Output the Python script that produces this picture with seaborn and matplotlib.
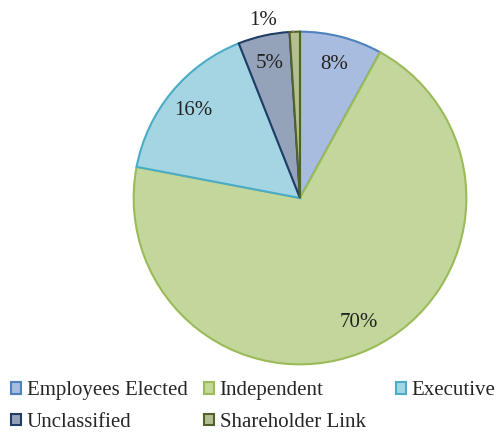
import matplotlib
matplotlib.use('Agg')

import matplotlib.pyplot as plt
import seaborn as sns
from matplotlib.patches import Patch

sns.set_theme(style='white')
plt.rcParams['font.family'] = ['Liberation Serif', 'DejaVu Serif']

categories = ['Employees Elected', 'Independent', 'Executive', 'Unclassified', 'Shareholder Link']
shares = [8, 70, 16, 5, 1]
face_colors = ['#a8bce0', '#c3d69b', '#a5d5e3', '#95a3ba', '#b3bf8f']
edge_colors = ['#4f81bd', '#9bbb59', '#4bacc6', '#1f3d66', '#4f6228']

fig = plt.figure(figsize=(5, 4.33), dpi=100)
ax = fig.add_axes([0.264, 0.1547, 0.672, 0.776])

wedges, texts, autotexts = ax.pie(shares, startangle=90, counterclock=False,
                                  colors=face_colors, autopct='%d%%', pctdistance=0.83,
                                  textprops={'fontsize': 15, 'color': '#222222'})
for w, ec in zip(wedges, edge_colors):
    w.set_edgecolor(ec)
    w.set_linewidth(1.5)
ax.set_aspect('equal')
ax.set_xlim(-1.01, 1.01)
ax.set_ylim(-1.01, 1.01)

# small slice label sits outside with a leader line
small = autotexts[-1]
small.set_position((-0.22, 1.07))
ax.plot([-0.11, -0.05, -0.04], [1.025, 1.025, 1.0], color='#a0a0a0', lw=1, zorder=5)

handles = [Patch(facecolor=f, edgecolor=e, linewidth=1.5) for f, e in zip(face_colors, edge_colors)]
# legend columns laid out like the original (row-wise, fixed column starts)
columns = [([0, 3], 0.022), ([1, 4], 0.408), ([2], 0.792)]
for idx, x0 in columns:
    fig.legend([handles[i] for i in idx], [categories[i] for i in idx],
               loc='upper left', bbox_to_anchor=(x0, 0.12), frameon=False,
               fontsize=15, handlelength=0.5, handleheight=0.5,
               handletextpad=0.25, labelspacing=0.62, borderpad=0, borderaxespad=0)

fig.savefig('out.png', dpi=100)
